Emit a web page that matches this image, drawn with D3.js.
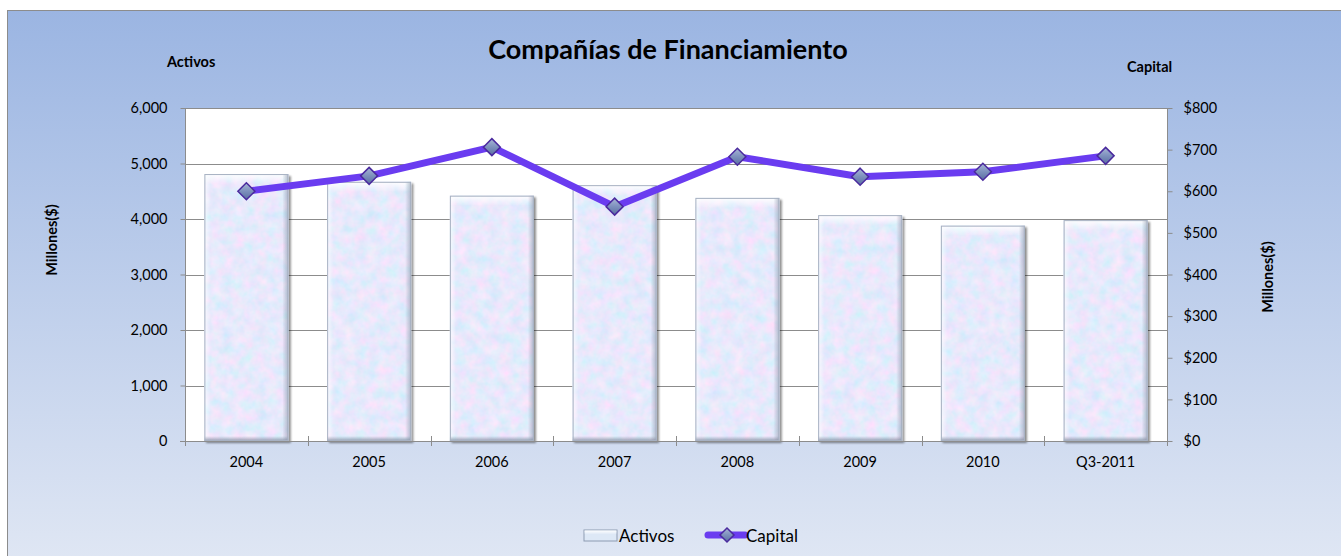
<!DOCTYPE html>
<html>
<head>
<meta charset="utf-8">
<script src="https://cdn.jsdelivr.net/npm/d3@7/dist/d3.min.js"></script>
<style>
  html, body { margin: 0; padding: 0; background: #ffffff; }
  svg { display: block; }
  text { font-family: Lato, "Open Sans", sans-serif; fill: #000; }
</style>
</head>
<body>
<script>
// ---- data ----
const categories = ["2004", "2005", "2006", "2007", "2008", "2009", "2010", "Q3-2011"];
const activos = [4810, 4670, 4420, 4610, 4380, 4070, 3880, 3980];
const capital = [600, 637, 706, 563, 683, 635, 647, 685];
const leftTicks = [0, 1000, 2000, 3000, 4000, 5000, 6000];
const rightTicks = [0, 100, 200, 300, 400, 500, 600, 700, 800];
const seriesNames = ["Activos", "Capital"];
const chartTitle = "Compañías de Financiamiento";

const W = 1341, H = 556;
const plot = { left: 185, right: 1167, top: 108, bottom: 441 };

const svg = d3.select("body").append("svg").attr("width", W).attr("height", H);
const defs = svg.append("defs");

// background gradient
const bg = defs.append("linearGradient").attr("id", "bg").attr("x1", 0).attr("y1", 0).attr("x2", 0).attr("y2", 1);
bg.append("stop").attr("offset", "0").attr("stop-color", "#9bb5e2");
bg.append("stop").attr("offset", "1").attr("stop-color", "#e0e7f4");

// bar texture filter
const tex = defs.append("filter").attr("id", "tex").attr("x", 0).attr("y", 0).attr("width", 1).attr("height", 1);
tex.append("feTurbulence").attr("type", "fractalNoise").attr("baseFrequency", "0.09").attr("numOctaves", 3).attr("seed", 7).attr("result", "n");
tex.append("feColorMatrix").attr("in", "n").attr("type", "matrix")
  .attr("values", "0.5 0 0 0 0.55  -0.1 0.15 0 0 0.79  0 0 0.08 0 0.93  0 0 0 0 1").attr("result", "c");
tex.append("feComposite").attr("in", "c").attr("in2", "SourceGraphic").attr("operator", "in");

// bevel gradients
const bevT = defs.append("linearGradient").attr("id", "bevT").attr("x1", 0).attr("y1", 0).attr("x2", 0).attr("y2", 1);
bevT.append("stop").attr("offset", "0").attr("stop-color", "#ffffff").attr("stop-opacity", 0.95);
bevT.append("stop").attr("offset", "1").attr("stop-color", "#ffffff").attr("stop-opacity", 0);
const bevL = defs.append("linearGradient").attr("id", "bevL").attr("x1", 0).attr("y1", 0).attr("x2", 1).attr("y2", 0);
bevL.append("stop").attr("offset", "0").attr("stop-color", "#ffffff").attr("stop-opacity", 0.7);
bevL.append("stop").attr("offset", "1").attr("stop-color", "#ffffff").attr("stop-opacity", 0);
const bevR = defs.append("linearGradient").attr("id", "bevR").attr("x1", 0).attr("y1", 0).attr("x2", 1).attr("y2", 0);
bevR.append("stop").attr("offset", "0").attr("stop-color", "#8a96aa").attr("stop-opacity", 0);
bevR.append("stop").attr("offset", "1").attr("stop-color", "#8a96aa").attr("stop-opacity", 0.6);
const bevB = defs.append("linearGradient").attr("id", "bevB").attr("x1", 0).attr("y1", 0).attr("x2", 0).attr("y2", 1);
bevB.append("stop").attr("offset", "0").attr("stop-color", "#8a96aa").attr("stop-opacity", 0);
bevB.append("stop").attr("offset", "1").attr("stop-color", "#7d889b").attr("stop-opacity", 0.8);

// marker gradient
const mg = defs.append("linearGradient").attr("id", "mk").attr("x1", 0).attr("y1", 0).attr("x2", 0).attr("y2", 1);
mg.append("stop").attr("offset", "0").attr("stop-color", "#a9b7d6");
mg.append("stop").attr("offset", "0.5").attr("stop-color", "#7d90bd");
mg.append("stop").attr("offset", "1").attr("stop-color", "#5a6ea0");

const shadow = defs.append("filter").attr("id", "shadow").attr("x", "-10%").attr("y", "-10%").attr("width", "130%").attr("height", "130%");
shadow.append("feGaussianBlur").attr("in", "SourceAlpha").attr("stdDeviation", 1.2).attr("result", "b");
shadow.append("feOffset").attr("in", "b").attr("dx", 1.5).attr("dy", 1.5).attr("result", "o");
shadow.append("feComponentTransfer").attr("in", "o").attr("result", "o2")
  .append("feFuncA").attr("type", "linear").attr("slope", 0.45);
const sm = shadow.append("feMerge");
sm.append("feMergeNode").attr("in", "o2");
sm.append("feMergeNode").attr("in", "SourceGraphic");

// outer chart area
svg.append("rect").attr("x", 7.5).attr("y", 10.5).attr("width", W).attr("height", H)
  .attr("fill", "url(#bg)").attr("stroke", "#8c8c8c").attr("stroke-width", 1);

// scales
const x = d3.scaleBand().domain(categories).range([plot.left, plot.right]).paddingInner(0.316).paddingOuter(0.158);
const y = d3.scaleLinear().domain([0, 6000]).range([plot.bottom, plot.top]);
const y2 = d3.scaleLinear().domain([0, 800]).range([plot.bottom, plot.top]);

// plot area
svg.append("rect").attr("x", plot.left).attr("y", plot.top)
  .attr("width", plot.right - plot.left).attr("height", plot.bottom - plot.top).attr("fill", "#ffffff");

// gridlines
svg.append("g").selectAll("line").data(leftTicks.filter(d => d > 0)).join("line")
  .attr("x1", plot.left).attr("x2", plot.right)
  .attr("y1", d => Math.round(y(d)) + 0.5).attr("y2", d => Math.round(y(d)) + 0.5)
  .attr("stroke", "#8c8c8c").attr("stroke-width", 1);

// bars
const bars = svg.append("g");
categories.forEach((c, i) => {
  const bx = x(c), bw = x.bandwidth(), by = y(activos[i]), bh = y(0) - y(activos[i]);
  const g = bars.append("g").attr("filter", "url(#shadow)");
  g.append("rect").attr("x", bx).attr("y", by).attr("width", bw).attr("height", bh).attr("fill", "#d4e2f6");
  g.append("rect").attr("x", bx).attr("y", by).attr("width", bw).attr("height", bh).attr("fill", "#ffffff").attr("filter", "url(#tex)");
  g.append("rect").attr("x", bx).attr("y", by).attr("width", bw).attr("height", 10).attr("fill", "url(#bevT)");
  g.append("rect").attr("x", bx).attr("y", by).attr("width", 6).attr("height", bh).attr("fill", "url(#bevL)");
  g.append("rect").attr("x", bx + bw - 6).attr("y", by).attr("width", 6).attr("height", bh).attr("fill", "url(#bevR)");
  g.append("rect").attr("x", bx).attr("y", y(0) - 5).attr("width", bw).attr("height", 5).attr("fill", "url(#bevB)");
  g.append("rect").attr("x", bx + 0.5).attr("y", by + 0.5).attr("width", bw - 1).attr("height", bh - 1)
    .attr("fill", "none").attr("stroke", "#a7b1c2").attr("stroke-width", 1);
});

// axes
const axisColor = "#8c8c8c";
const tickFont = 14.5;
const gL = svg.append("g").attr("transform", `translate(${plot.left + 0.5},0)`)
  .call(d3.axisLeft(y).tickValues(leftTicks).tickFormat(d3.format(",")).tickSize(5).tickPadding(13));
const gR = svg.append("g").attr("transform", `translate(${plot.right + 0.5},0)`)
  .call(d3.axisRight(y2).tickValues(rightTicks).tickFormat(d => "$" + d).tickSize(5).tickPadding(11));
[gL, gR].forEach(g => {
  g.select(".domain").attr("stroke", axisColor).attr("d", `M0,${plot.top}V${plot.bottom}`);
  g.selectAll(".tick line").attr("stroke", axisColor);
  g.selectAll(".tick text").attr("font-family", "Lato, sans-serif").attr("font-size", tickFont).attr("fill", "#000");
});
// top border of plot
svg.append("line").attr("x1", plot.left).attr("x2", plot.right).attr("y1", plot.top + 0.5).attr("y2", plot.top + 0.5).attr("stroke", axisColor);

// x axis
const gX = svg.append("g");
gX.append("line").attr("x1", plot.left - 5).attr("x2", plot.right + 5)
  .attr("y1", plot.bottom + 0.5).attr("y2", plot.bottom + 0.5).attr("stroke", axisColor);
const boundaries = d3.range(categories.length + 1).map(i => plot.left + i * x.step());
gX.selectAll("line.t").data(boundaries).join("line").attr("class", "t")
  .attr("x1", d => Math.round(d) + 0.5).attr("x2", d => Math.round(d) + 0.5)
  .attr("y1", plot.bottom - 5).attr("y2", plot.bottom + 5).attr("stroke", axisColor);
gX.selectAll("text").data(categories).join("text")
  .attr("x", d => x(d) + x.bandwidth() / 2).attr("y", 467)
  .attr("text-anchor", "middle").attr("font-size", tickFont).text(d => d);

// line
const line = d3.line().x((d, i) => x(categories[i]) + x.bandwidth() / 2).y(d => y2(d));
svg.append("path").datum(capital).attr("d", line)
  .attr("fill", "none").attr("stroke", "#6a3cf0").attr("stroke-width", 7).attr("stroke-linejoin", "round");

const diamond = (cx, cy, r) => `M${cx},${cy - r}L${cx + r},${cy}L${cx},${cy + r}L${cx - r},${cy}Z`;
svg.append("g").selectAll("path").data(capital).join("path")
  .attr("d", (d, i) => diamond(x(categories[i]) + x.bandwidth() / 2, y2(d), 8.5))
  .attr("fill", "url(#mk)").attr("stroke", "#4a2a9e").attr("stroke-width", 1.5);

// titles
svg.append("text").attr("x", 668).attr("y", 59).attr("text-anchor", "middle")
  .attr("font-size", 27).attr("font-weight", "bold").text(chartTitle);
svg.append("text").attr("x", 167).attr("y", 67).attr("font-size", 14.5).attr("font-weight", "bold").text("Activos");
svg.append("text").attr("x", 1127).attr("y", 72).attr("font-size", 14.5).attr("font-weight", "bold").text("Capital");
svg.append("text").attr("transform", "translate(57,240) rotate(-90)").attr("text-anchor", "middle")
  .attr("font-size", 14.5).attr("font-weight", "bold").text("Millones($)");
svg.append("text").attr("transform", "translate(1273,277) rotate(-90)").attr("text-anchor", "middle")
  .attr("font-size", 14.5).attr("font-weight", "bold").text("Millones($)");

// legend
const lg = svg.append("g");
lg.append("rect").attr("x", 584).attr("y", 530).attr("width", 33).attr("height", 11).attr("fill", "#dde8f6")
  .attr("stroke", "#8d9bb2").attr("stroke-width", 1);
lg.append("rect").attr("x", 584.5).attr("y", 530.5).attr("width", 32).attr("height", 4).attr("fill", "url(#bevT)");
lg.append("text").attr("x", 619).attr("y", 542).attr("font-size", 17).text(seriesNames[0]);
lg.append("line").attr("x1", 708).attr("x2", 745).attr("y1", 535).attr("y2", 535)
  .attr("stroke", "#6a3cf0").attr("stroke-width", 7).attr("stroke-linecap", "round");
lg.append("path").attr("d", diamond(727, 535, 7)).attr("fill", "url(#mk)").attr("stroke", "#4a2a9e").attr("stroke-width", 1.5);
lg.append("text").attr("x", 746).attr("y", 542).attr("font-size", 17).text(seriesNames[1]);
</script>
</body>
</html>
